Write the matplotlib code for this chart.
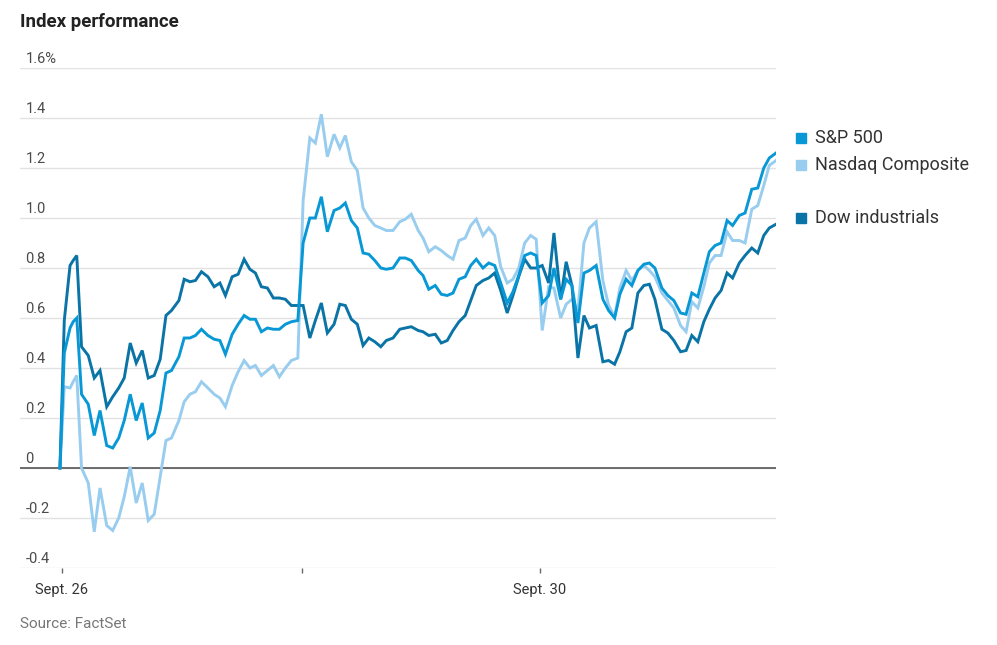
import matplotlib

matplotlib.use("Agg")
import matplotlib.pyplot as plt
import matplotlib.transforms as mtransforms

# time in trading days: 0 = Sept. 26 open, 1 = Sept. 27 open, 2 = Sept. 30 open
t = [
    0.000, 0.018, 0.042, 0.055, 0.070, 0.090, 0.118, 0.143, 0.167, 0.195, 0.220,
    0.245, 0.268, 0.293, 0.318, 0.343, 0.368, 0.393, 0.418, 0.442, 0.465, 0.496,
    0.518, 0.542, 0.565, 0.590, 0.617, 0.643, 0.667, 0.690, 0.718, 0.743, 0.768,
    0.792, 0.815, 0.840, 0.865, 0.890, 0.915, 0.940, 0.965, 0.992,
    1.014, 1.042, 1.065, 1.090, 1.115, 1.143, 1.167, 1.190, 1.215, 1.240, 1.264,
    1.288, 1.313, 1.338, 1.361, 1.389, 1.417, 1.440, 1.465, 1.494,
    1.514, 1.538, 1.565, 1.590, 1.615, 1.639, 1.664, 1.690, 1.713, 1.736, 1.764,
    1.788, 1.813, 1.838, 1.865, 1.889, 1.913, 1.938, 1.963, 1.986,
    2.011, 2.038, 2.060, 2.088, 2.111, 2.135, 2.160, 2.185, 2.208, 2.236, 2.264,
    2.288, 2.313, 2.335, 2.361, 2.385, 2.410, 2.435, 2.458, 2.481,
    2.510, 2.535, 2.560, 2.588, 2.611, 2.635, 2.660, 2.685, 2.708, 2.732, 2.757,
    2.782, 2.805, 2.833, 2.857, 2.885, 2.910, 2.935, 2.958, 2.986,
]

sp500 = [
    0.00, 0.46, 0.56, 0.585, 0.60, 0.295, 0.255, 0.13, 0.23, 0.09, 0.08,
    0.12, 0.19, 0.295, 0.19, 0.26, 0.12, 0.14, 0.23, 0.38, 0.39, 0.445,
    0.52, 0.52, 0.53, 0.555, 0.53, 0.515, 0.51, 0.455, 0.535, 0.575, 0.61,
    0.595, 0.595, 0.545, 0.56, 0.555, 0.555, 0.575, 0.585, 0.59,
    0.90, 1.00, 1.00, 1.085, 0.945, 1.03, 1.04, 1.06, 0.99, 0.96, 0.86,
    0.855, 0.83, 0.80, 0.795, 0.80, 0.84, 0.84, 0.83, 0.79,
    0.77, 0.715, 0.73, 0.695, 0.69, 0.70, 0.755, 0.765, 0.81, 0.835, 0.80,
    0.82, 0.81, 0.74, 0.66, 0.705, 0.77, 0.85, 0.86, 0.85,
    0.66, 0.69, 0.80, 0.675, 0.755, 0.73, 0.58, 0.78, 0.79, 0.81, 0.675,
    0.63, 0.60, 0.695, 0.755, 0.73, 0.79, 0.815, 0.82, 0.80,
    0.72, 0.69, 0.67, 0.62, 0.615, 0.70, 0.685, 0.78, 0.865, 0.89, 0.90,
    0.99, 0.97, 1.01, 1.02, 1.115, 1.12, 1.20, 1.24, 1.26,
]

nasdaq = [
    0.00, 0.325, 0.32, 0.345, 0.37, 0.00, -0.06, -0.255, -0.08, -0.23, -0.25,
    -0.20, -0.115, 0.005, -0.14, -0.06, -0.21, -0.185, -0.035, 0.11, 0.12, 0.19,
    0.265, 0.295, 0.305, 0.345, 0.32, 0.295, 0.28, 0.245, 0.33, 0.385, 0.43,
    0.40, 0.41, 0.37, 0.39, 0.41, 0.365, 0.40, 0.43, 0.44,
    1.07, 1.32, 1.30, 1.415, 1.245, 1.335, 1.28, 1.33, 1.225, 1.19, 1.04,
    1.00, 0.97, 0.96, 0.95, 0.95, 0.985, 0.995, 1.015, 0.95,
    0.92, 0.865, 0.885, 0.87, 0.85, 0.835, 0.91, 0.92, 0.97, 0.995, 0.93,
    0.96, 0.93, 0.805, 0.74, 0.755, 0.80, 0.90, 0.93, 0.915,
    0.55, 0.725, 0.72, 0.60, 0.655, 0.675, 0.63, 0.90, 0.96, 0.985, 0.75,
    0.65, 0.605, 0.72, 0.79, 0.75, 0.79, 0.81, 0.79, 0.765,
    0.70, 0.67, 0.64, 0.57, 0.545, 0.665, 0.64, 0.725, 0.82, 0.85, 0.85,
    0.945, 0.91, 0.91, 0.90, 1.035, 1.05, 1.13, 1.21, 1.23,
]

dow = [
    0.00, 0.59, 0.81, 0.83, 0.85, 0.485, 0.45, 0.36, 0.39, 0.245, 0.285,
    0.32, 0.36, 0.50, 0.42, 0.47, 0.36, 0.37, 0.435, 0.61, 0.63, 0.67,
    0.755, 0.745, 0.75, 0.785, 0.765, 0.725, 0.74, 0.69, 0.765, 0.775, 0.835,
    0.795, 0.78, 0.725, 0.72, 0.68, 0.68, 0.675, 0.65, 0.65,
    0.65, 0.52, 0.59, 0.66, 0.54, 0.575, 0.655, 0.65, 0.595, 0.575, 0.49,
    0.52, 0.505, 0.485, 0.51, 0.52, 0.555, 0.56, 0.565, 0.55,
    0.545, 0.53, 0.535, 0.50, 0.51, 0.55, 0.585, 0.61, 0.67, 0.73, 0.75,
    0.76, 0.78, 0.71, 0.62, 0.69, 0.765, 0.835, 0.80, 0.80,
    0.81, 0.74, 0.94, 0.675, 0.825, 0.73, 0.44, 0.61, 0.56, 0.57, 0.425,
    0.43, 0.415, 0.465, 0.545, 0.56, 0.70, 0.73, 0.735, 0.675,
    0.555, 0.54, 0.51, 0.465, 0.47, 0.53, 0.505, 0.585, 0.635, 0.68, 0.71,
    0.78, 0.76, 0.82, 0.85, 0.88, 0.86, 0.93, 0.96, 0.975,
]

y_ticks = [-0.4, -0.2, 0.0, 0.2, 0.4, 0.6, 0.8, 1.0, 1.2, 1.4, 1.6]
y_labels = ["-0.4", "-0.2", "0", "0.2", "0.4", "0.6", "0.8", "1.0", "1.2", "1.4", "1.6%"]
x_ticks = [0.008, 1.008, 2.0]
x_labels = ["Sept. 26", "", "Sept. 30"]

series = [
    ("Nasdaq Composite", nasdaq, "#98cdef", 1.212),
    ("Dow industrials", dow, "#0a74a7", 1.0),
    ("S&P 500", sp500, "#0898d6", 1.32),
]

plt.rcParams["font.family"] = ["Roboto", "DejaVu Sans"]

W, H = 997, 645
fig = plt.figure(figsize=(W / 100, H / 100), dpi=100)
ax = fig.add_axes([20 / W, 1 - 568 / H, (776 - 20) / W, (568 - 68) / H])

ax.set_xlim(-40 / 240, 2.986)
ax.set_ylim(-0.4, 1.6)

for s in ax.spines.values():
    s.set_visible(False)

for yv in y_ticks:
    ax.axhline(yv, color="#e2e2e2", lw=1.0, zorder=0)
ax.axhline(0, color="#555555", lw=1.2, zorder=1)

ax.set_yticks([])
for yv, lab in zip(y_ticks, y_labels):
    ax.annotate(lab, xy=(0, yv), xycoords=("axes fraction", "data"),
                xytext=(4, 1.5), textcoords="offset points",
                ha="left", va="bottom", fontsize=10.5, color="#4a4a4a")

ax.set_xticks(x_ticks)
ax.set_xticklabels(x_labels)
ax.tick_params(axis="x", length=3.5, width=1, color="#666666", pad=7,
               labelsize=10.5, labelcolor="#333333")

for name, vals, col, ly in series:
    ax.plot(t, vals, color=col, lw=2.1, solid_joinstyle="miter", zorder=3)

# legend labels to the right of the plot
trans = mtransforms.blended_transform_factory(fig.transFigure, ax.transData)
for name, vals, col, ly in series:
    ax.plot([801 / W], [ly], marker="s", ms=7, color=col, transform=trans,
            clip_on=False, linestyle="none")
    ax.text(815 / W, ly, name, transform=trans, va="center", ha="left",
            fontsize=13, color="#333333")

fig.text(20 / W, 1 - 22 / H, "Index performance", fontsize=13.5, fontweight="bold",
         color="#222222", va="center", ha="left")
fig.text(20 / W, 1 - 624 / H, "Source: FactSet", fontsize=11, color="#777777",
         va="center", ha="left")

fig.savefig("out.png", dpi=100)
